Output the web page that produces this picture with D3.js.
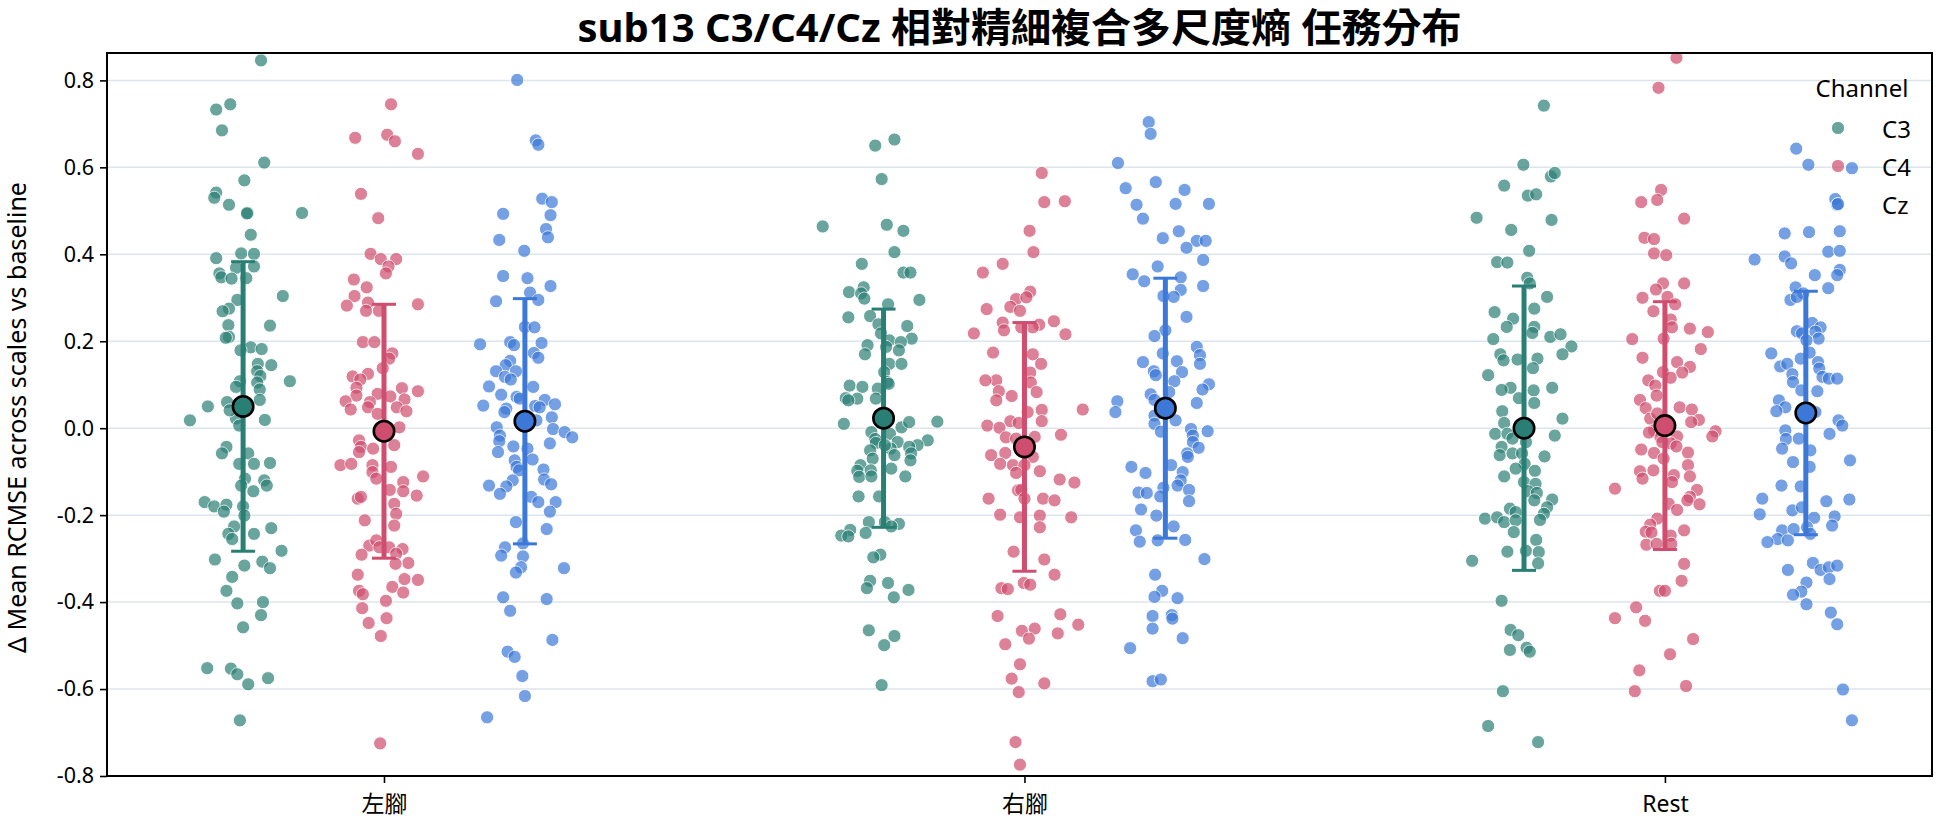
<!DOCTYPE html>
<html><head><meta charset="utf-8">
<script src="https://cdn.jsdelivr.net/npm/d3@7"></script>
<style>
body{margin:0;background:#fff}
svg{display:block}
text{font-family:"Noto Sans","Noto Sans CJK TC",sans-serif;fill:#000}
</style>
</head><body>
<svg id="chart" width="1944" height="827"></svg>
<script>
const categories = ["左腳","右腳","Rest"];
const channels = ["C3","C4","Cz"];
const yTicks = [-0.8,-0.6,-0.4,-0.2,0.0,0.2,0.4,0.6,0.8];
const titleText = "sub13 C3/C4/Cz 相對精細複合多尺度熵 任務分布";
const yLabel = "Δ Mean RCMSE across scales vs baseline";
const legendTitle = "Channel";

// means and standard deviations (per category)
const meanC3 = [0.050, 0.023, 0.000], sdC3 = [0.333, 0.251, 0.327];
const meanC4 = [-0.007, -0.043, 0.006], sdC4 = [0.292, 0.286, 0.285];
const meanCz = [0.016, 0.046, 0.035], sdCz = [0.282, 0.299, 0.280];

// ---- C3 ----
const c3Left = [0.846,0.733,0.745,0.685,0.611,0.570,0.542,0.530,0.514,0.495,0.494,0.495,0.445,0.402,0.401,0.391,0.372,0.369,0.356,0.347,0.344,0.345,0.304,0.295,0.275,0.269,0.236,0.237,0.210,0.208,0.186,0.182,0.179,0.145,0.148,0.131,0.120,0.108,0.108,0.105,0.095,0.089,0.050,0.060,0.065,0.018,0.019,0.022,0.006,0.041,
-0.043,-0.058,-0.058,-0.082,-0.082,-0.080,-0.116,-0.132,-0.120,-0.132,-0.145,-0.170,-0.180,-0.176,-0.192,-0.180,-0.201,-0.226,-0.243,-0.243,-0.255,-0.230,-0.282,-0.302,-0.316,-0.307,-0.322,-0.342,-0.374,-0.403,-0.400,-0.430,-0.458,-0.552,-0.553,-0.566,-0.589,-0.575,-0.672];
const c3LeftJit = [0.028,-0.042,-0.020,-0.033,0.033,0.002,-0.042,-0.045,-0.022,0.007,0.006,0.092,0.012,-0.003,0.017,-0.042,0.017,-0.011,-0.037,-0.034,-0.018,0.005,0.062,-0.009,-0.022,-0.032,0.042,-0.023,-0.022,-0.027,0.012,0.029,-0.004,0.044,0.023,0.022,0.027,0.073,-0.005,0.022,-0.011,0.026,-0.055,-0.025,0.026,-0.083,0.034,-0.011,-0.006,-0.021,
-0.026,-0.033,0.008,-0.006,0.017,0.042,0.003,-0.003,0.033,0.037,0.016,-0.060,-0.045,-0.026,-0.030,0.000,0.002,-0.014,0.017,-0.023,-0.017,0.044,0.060,-0.044,0.002,0.030,0.042,-0.017,-0.026,-0.009,0.031,0.028,0.000,-0.056,-0.019,-0.009,0.008,0.039,-0.005];

const c3Right = [0.664,0.650,0.573,0.464,0.468,0.454,0.405,0.378,0.358,0.358,0.324,0.313,0.310,0.298,0.295,0.285,0.255,0.258,0.239,0.235,0.218,0.206,0.202,0.198,0.191,0.187,0.179,0.170,0.148,0.148,0.129,0.106,0.098,0.095,0.091,0.102,0.069,0.068,0.064,0.068,0.010,0.002,0.014,0.015,-0.009,-0.013,-0.028,-0.025,
-0.034,-0.032,-0.039,-0.043,-0.051,-0.047,-0.039,-0.058,-0.070,-0.062,-0.074,-0.085,-0.098,-0.097,-0.093,-0.112,-0.111,-0.111,-0.157,-0.157,-0.216,-0.216,-0.220,-0.226,-0.234,-0.247,-0.249,-0.241,-0.291,-0.297,-0.351,-0.368,-0.356,-0.372,-0.389,-0.465,-0.478,-0.499,-0.591];
const c3RightJit = [0.017,-0.013,-0.003,-0.095,0.005,0.031,0.017,-0.034,0.031,0.042,-0.031,-0.054,-0.035,-0.030,0.056,0.007,-0.055,-0.021,-0.008,0.037,-0.004,0.044,0.009,0.027,-0.025,0.004,0.024,-0.029,0.009,0.028,0.001,0.006,-0.053,-0.033,-0.009,0.008,-0.059,-0.041,-0.055,-0.012,-0.062,0.028,0.040,0.084,-0.019,0.010,0.069,-0.013,
-0.012,0.022,0.053,0.040,-0.021,0.011,0.002,0.043,-0.017,0.017,0.042,-0.036,-0.041,-0.020,0.012,-0.038,-0.019,0.034,-0.039,-0.007,-0.023,0.002,0.024,0.012,-0.052,-0.066,-0.055,-0.028,-0.005,-0.016,-0.021,-0.026,0.007,0.039,0.016,-0.023,0.017,0.001,-0.003];

const c3Rest = [0.742,0.606,0.579,0.587,0.558,0.535,0.538,0.484,0.479,0.456,0.408,0.382,0.381,0.346,0.333,0.302,0.267,0.275,0.252,0.233,0.233,0.219,0.205,0.210,0.216,0.188,0.170,0.156,0.158,0.160,0.170,0.122,0.138,0.093,0.088,0.087,0.093,0.069,0.058,0.039,0.012,0.022,-0.013,-0.013,-0.017,
-0.024,-0.032,-0.043,-0.062,-0.058,-0.058,-0.065,-0.082,-0.093,-0.098,-0.111,-0.124,-0.128,-0.145,-0.149,-0.166,-0.164,-0.182,-0.185,-0.193,-0.197,-0.208,-0.205,-0.216,-0.212,-0.211,-0.239,-0.257,-0.284,-0.282,-0.285,-0.305,-0.311,-0.397,-0.464,-0.476,-0.510,-0.505,-0.514,-0.605,-0.685,-0.722];
const c3RestJit = [0.031,-0.001,0.042,0.048,-0.031,0.006,0.019,-0.074,0.043,-0.020,0.008,-0.042,-0.026,0.005,0.009,0.036,-0.046,0.016,-0.017,-0.027,0.016,0.013,-0.048,0.041,0.057,0.074,-0.037,-0.032,-0.010,0.021,0.060,-0.056,0.014,-0.021,-0.035,0.015,0.044,-0.008,0.016,-0.034,-0.031,0.060,-0.045,-0.026,0.048,
-0.018,0.003,-0.035,-0.038,-0.018,-0.003,0.032,0.001,-0.013,0.017,-0.031,0.000,0.018,0.006,0.020,0.016,0.044,0.036,-0.022,-0.013,0.031,-0.061,-0.042,-0.031,-0.013,0.025,-0.016,0.019,-0.026,0.003,0.023,-0.081,0.022,-0.035,-0.021,-0.009,-0.022,0.004,0.009,-0.033,-0.056,0.022];

// ---- C4 ----
const c4Left = [0.745,0.668,0.675,0.660,0.631,0.539,0.483,0.401,0.389,0.389,0.372,0.356,0.342,0.324,0.304,0.282,0.289,0.270,0.270,0.285,0.198,0.198,0.172,0.160,0.138,0.125,0.119,0.112,0.093,0.092,0.085,0.079,0.073,0.075,0.062,0.060,0.066,0.043,0.048,0.048,0.039,0.033,-0.028,0.002,
-0.043,-0.055,-0.047,-0.039,-0.085,-0.082,-0.085,-0.089,-0.101,-0.116,-0.111,-0.124,-0.142,-0.145,-0.155,-0.162,-0.158,-0.174,-0.197,-0.212,-0.224,-0.270,-0.258,-0.274,-0.274,-0.278,-0.289,-0.291,-0.310,-0.312,-0.337,-0.347,-0.349,-0.365,-0.378,-0.374,-0.382,-0.397,-0.414,-0.437,-0.448,-0.478,-0.725];
const c4LeftJit = [0.011,-0.045,0.005,0.017,0.053,-0.036,-0.009,-0.021,-0.005,0.019,0.007,0.003,-0.047,-0.027,-0.046,-0.058,-0.025,-0.028,-0.008,0.053,-0.033,-0.015,0.013,0.008,-0.002,-0.025,-0.049,-0.037,-0.043,0.028,0.053,-0.010,0.010,-0.043,-0.060,-0.022,0.032,-0.052,-0.025,0.020,0.035,-0.010,-0.039,0.024,
-0.036,-0.039,-0.017,0.016,-0.068,-0.051,-0.018,0.011,-0.018,-0.012,0.061,0.030,0.009,0.030,0.051,-0.041,-0.036,0.016,0.019,-0.030,0.016,-0.023,-0.012,-0.007,0.008,0.029,0.019,-0.035,0.038,0.018,-0.041,0.032,0.053,0.013,0.030,-0.039,-0.033,0.003,-0.034,0.004,-0.024,-0.005,-0.006];

const c4Right = [0.587,0.520,0.522,0.454,0.405,0.378,0.358,0.314,0.297,0.301,0.279,0.270,0.274,0.246,0.243,0.238,0.232,0.225,0.232,0.218,0.216,0.174,0.170,0.148,0.128,0.110,0.110,0.105,0.085,0.083,0.064,0.074,0.042,0.043,0.037,0.016,0.012,0.016,0.006,0.001,-0.015,-0.021,
-0.024,-0.020,-0.062,-0.057,-0.066,-0.082,-0.085,-0.085,-0.103,-0.099,-0.118,-0.125,-0.143,-0.142,-0.162,-0.162,-0.162,-0.166,-0.199,-0.205,-0.201,-0.205,-0.228,-0.284,-0.302,-0.337,-0.368,-0.370,-0.356,-0.360,-0.432,-0.428,-0.452,-0.466,-0.461,-0.484,-0.472,-0.497,-0.543,-0.576,-0.587,-0.607,-0.722,-0.774];
const c4RightJit = [0.027,0.031,0.063,0.008,0.014,-0.034,-0.065,0.009,-0.013,0.003,-0.022,-0.007,-0.059,0.046,-0.034,0.023,0.013,-0.032,-0.005,-0.079,0.064,-0.049,0.013,0.026,0.009,-0.044,-0.061,0.010,-0.040,0.019,-0.044,-0.020,0.027,0.091,0.005,-0.022,-0.009,0.027,-0.058,-0.039,0.057,-0.029,
-0.013,0.016,-0.052,-0.030,0.013,-0.038,-0.018,0.000,-0.013,0.024,0.055,0.078,-0.010,-0.005,-0.056,0.000,0.029,0.047,-0.038,-0.007,0.024,0.073,0.024,-0.017,0.031,0.047,-0.036,-0.026,-0.001,0.009,-0.042,0.056,0.084,-0.004,0.016,0.007,0.052,-0.030,-0.007,-0.020,0.031,-0.009,-0.014,-0.007];

const c4Rest = [0.852,0.783,0.548,0.520,0.525,0.482,0.438,0.435,0.402,0.398,0.333,0.333,0.319,0.300,0.302,0.285,0.269,0.250,0.232,0.229,0.221,0.206,0.205,0.182,0.162,0.152,0.141,0.129,0.128,0.116,0.110,0.098,0.075,0.065,0.046,0.048,0.043,0.022,0.019,0.014,-0.019,-0.007,-0.019,-0.005,-0.020,
0.034,-0.010,-0.032,-0.035,-0.042,-0.049,-0.057,-0.056,-0.070,-0.085,-0.097,-0.099,-0.116,-0.108,-0.111,-0.124,-0.139,-0.142,-0.158,-0.166,-0.175,-0.174,-0.188,-0.208,-0.222,-0.238,-0.240,-0.235,-0.247,-0.268,-0.266,-0.266,-0.312,-0.351,-0.374,-0.374,-0.412,-0.437,-0.443,-0.485,-0.520,-0.557,-0.593,-0.605];
const c4RestJit = [0.018,-0.010,-0.006,-0.037,-0.012,0.030,-0.032,-0.017,-0.017,0.002,0.030,-0.003,-0.014,-0.035,0.004,0.016,-0.018,0.009,0.011,0.039,0.067,-0.002,-0.051,0.056,-0.035,0.019,0.039,-0.003,0.027,0.009,-0.026,-0.015,-0.013,-0.039,-0.030,0.023,0.042,-0.023,0.053,0.041,0.019,0.079,0.074,-0.017,-0.007,
-0.012,-0.025,-0.004,0.009,0.018,-0.037,-0.017,0.036,-0.002,0.036,-0.018,-0.039,-0.035,0.014,0.039,0.011,-0.078,0.050,0.039,0.035,0.054,0.006,0.019,-0.012,-0.023,-0.030,-0.021,0.030,0.009,-0.029,-0.013,0.010,0.030,0.026,-0.008,0.000,-0.045,-0.078,-0.031,0.044,0.008,-0.040,0.033,-0.047];

// ---- Cz ----
const czLeft = [0.801,0.662,0.652,0.528,0.520,0.493,0.490,0.458,0.439,0.433,0.408,0.350,0.345,0.327,0.312,0.292,0.295,0.233,0.232,0.193,0.198,0.191,0.196,0.173,0.162,0.155,0.145,0.131,0.131,0.118,0.112,0.096,0.095,0.077,0.072,0.068,0.065,0.055,0.052,0.051,0.048,0.045,0.037,0.025,0.018,0.002,-0.002,-0.009,-0.021,-0.017,
-0.030,-0.055,-0.042,-0.047,-0.035,-0.074,-0.072,-0.089,-0.097,-0.095,-0.120,-0.118,-0.129,-0.132,-0.134,-0.151,-0.158,-0.170,-0.170,-0.192,-0.216,-0.232,-0.265,-0.274,-0.293,-0.295,-0.320,-0.332,-0.322,-0.389,-0.393,-0.420,-0.487,-0.514,-0.526,-0.570,-0.616,-0.665];
const czLeftJit = [-0.012,0.017,0.021,0.027,0.042,-0.034,0.040,0.033,0.036,-0.040,-0.001,-0.034,0.004,0.040,0.008,-0.045,0.021,0.000,0.015,-0.070,-0.023,-0.017,0.026,0.014,0.021,-0.023,-0.030,-0.045,-0.014,-0.031,-0.022,-0.056,0.013,-0.037,-0.013,-0.008,0.031,0.047,-0.065,0.016,0.023,-0.029,-0.032,0.042,0.018,-0.044,0.044,0.062,0.074,-0.039,
-0.040,-0.042,-0.018,0.004,0.039,-0.016,0.012,-0.013,-0.009,0.029,-0.019,0.030,0.041,-0.056,-0.029,-0.039,0.010,0.021,0.048,0.039,-0.014,0.034,-0.003,-0.031,-0.037,-0.003,-0.006,-0.014,0.061,-0.034,0.034,-0.023,0.043,-0.027,-0.016,-0.004,0.000,-0.059];

const czRight = [0.704,0.677,0.610,0.552,0.566,0.548,0.514,0.516,0.516,0.482,0.437,0.453,0.431,0.431,0.415,0.387,0.372,0.354,0.338,0.347,0.327,0.318,0.304,0.302,0.256,0.225,0.212,0.187,0.172,0.168,0.148,0.152,0.154,0.131,0.122,0.129,0.108,0.083,0.101,0.089,0.078,0.065,0.062,0.037,0.058,0.029,0.010,0.018,-0.002,-0.007,-0.017,
-0.008,-0.032,-0.045,-0.058,-0.066,-0.089,-0.085,-0.103,-0.101,-0.120,-0.132,-0.142,-0.137,-0.148,-0.149,-0.157,-0.168,-0.187,-0.201,-0.226,-0.235,-0.261,-0.258,-0.257,-0.301,-0.337,-0.374,-0.388,-0.391,-0.432,-0.430,-0.438,-0.461,-0.483,-0.506,-0.582,-0.578];
const czRightJit = [-0.026,-0.023,-0.074,-0.062,-0.015,0.030,-0.045,0.016,0.068,-0.035,-0.004,0.021,0.049,0.063,0.033,0.059,-0.012,-0.051,-0.033,0.024,0.059,0.024,-0.003,0.013,0.033,0.000,-0.017,0.049,-0.004,0.054,0.054,-0.035,0.018,-0.018,-0.015,0.026,0.014,0.006,0.068,0.058,-0.023,-0.017,-0.075,-0.078,0.049,-0.017,-0.017,0.016,0.040,0.066,0.043,
-0.007,0.043,0.052,0.034,0.035,-0.053,0.009,-0.031,0.027,0.024,0.019,0.037,-0.003,-0.042,-0.029,-0.008,0.037,-0.038,-0.014,0.013,-0.046,-0.040,-0.012,0.031,0.061,-0.016,-0.005,-0.017,0.019,-0.020,0.010,0.011,-0.020,0.027,-0.055,-0.020,-0.007];

const czRest = [0.643,0.606,0.598,0.527,0.514,0.448,0.451,0.453,0.406,0.408,0.395,0.388,0.379,0.364,0.352,0.352,0.324,0.322,0.310,0.295,0.302,0.242,0.232,0.223,0.218,0.222,0.206,0.202,0.172,0.174,0.160,0.152,0.142,0.148,0.137,0.124,0.118,0.114,0.114,0.106,0.087,0.085,0.064,0.048,0.039,0.037,0.018,0.006,-0.005,-0.013,-0.025,
-0.024,-0.047,-0.051,-0.074,-0.078,-0.089,-0.132,-0.134,-0.162,-0.168,-0.164,-0.189,-0.182,-0.198,-0.206,-0.203,-0.224,-0.235,-0.232,-0.228,-0.243,-0.255,-0.258,-0.262,-0.326,-0.310,-0.326,-0.320,-0.316,-0.347,-0.355,-0.376,-0.383,-0.405,-0.424,-0.451,-0.601,-0.672];
const czRestJit = [-0.015,0.004,0.072,0.046,0.049,-0.033,0.005,0.053,0.035,0.053,-0.033,-0.080,-0.023,0.053,0.049,0.014,-0.016,0.035,-0.004,-0.024,-0.014,0.010,0.023,-0.014,-0.006,0.015,0.020,0.001,-0.054,0.006,-0.008,0.019,-0.040,-0.029,0.021,-0.021,0.026,0.036,0.049,-0.020,-0.007,0.018,-0.042,-0.032,-0.046,0.015,0.051,0.057,-0.032,0.037,-0.031,
-0.011,-0.037,0.007,0.069,-0.020,0.006,-0.038,-0.008,-0.068,0.032,0.068,-0.021,-0.006,-0.072,0.013,0.045,0.041,-0.037,-0.019,0.002,0.007,-0.044,-0.028,-0.060,-0.028,0.011,0.023,0.036,0.049,0.037,0.001,-0.007,-0.020,0.001,0.039,0.049,0.058,0.072];

const seriesVals = [[c3Left,c3Right,c3Rest],[c4Left,c4Right,c4Rest],[czLeft,czRight,czRest]];
const seriesJit  = [[c3LeftJit,c3RightJit,c3RestJit],[c4LeftJit,c4RightJit,c4RestJit],[czLeftJit,czRightJit,czRestJit]];
const seriesMean = [meanC3, meanC4, meanCz];
const seriesSd   = [sdC3, sdC4, sdCz];
const colors = ["#2a7f75","#cf4d6f","#3c78d8"];

const svg = d3.select("#chart");
const L = 107, R = 1932, T = 53, B = 776;
const x = d3.scaleLinear().domain([-0.4325, 2.417]).range([L, R]);
const y = d3.scaleLinear().domain([-0.8, 0.863]).range([B, T]);
const dodge = d3.scalePoint().domain(channels).range([-0.22, 0.22]);
const color = d3.scaleOrdinal().domain(channels).range(colors);
const fmt = d => d.toFixed(1);

// grid
svg.append("g").selectAll("line").data(yTicks).join("line")
  .attr("x1", L).attr("x2", R).attr("y1", d => y(d)).attr("y2", d => y(d))
  .attr("stroke", "#dce5ed").attr("stroke-width", 1.5);

// points
const pts = svg.append("g");
channels.forEach((ch, ci) => {
  categories.forEach((cat, gi) => {
    const vals = seriesVals[ci][gi], jit = seriesJit[ci][gi];
    const data = vals.map((v, i) => ({v, j: jit[i]}));
    pts.append("g").selectAll("circle").data(data).join("circle")
      .attr("cx", d => x(gi + dodge(ch) + d.j))
      .attr("cy", d => y(d.v))
      .attr("r", 6.6)
      .attr("fill", color(ch))
      .attr("stroke", "#fff").attr("stroke-width", 1)
      .attr("opacity", 0.7);
  });
});

// error bars + means
const eb = svg.append("g");
channels.forEach((ch, ci) => {
  categories.forEach((cat, gi) => {
    const m = seriesMean[ci][gi], s = seriesSd[ci][gi];
    const cx = x(gi + dodge(ch));
    eb.append("line").attr("x1", cx).attr("x2", cx).attr("y1", y(m - s)).attr("y2", y(m + s))
      .attr("stroke", color(ch)).attr("stroke-width", 5);
    [m - s, m + s].forEach(v => {
      eb.append("line").attr("x1", cx - 12).attr("x2", cx + 12).attr("y1", y(v)).attr("y2", y(v))
        .attr("stroke", color(ch)).attr("stroke-width", 3);
    });
  });
});
channels.forEach((ch, ci) => {
  categories.forEach((cat, gi) => {
    eb.append("circle").attr("cx", x(gi + dodge(ch))).attr("cy", y(seriesMean[ci][gi]))
      .attr("r", 10.2).attr("fill", color(ch)).attr("stroke", "#000").attr("stroke-width", 2.6);
  });
});

// axes
const yAxis = d3.axisLeft(y).tickValues(yTicks).tickFormat(fmt).tickSize(7).tickPadding(6);
const gy = svg.append("g").attr("transform", `translate(${L},0)`).call(yAxis);
gy.select(".domain").remove();
gy.selectAll("text").attr("font-size", 21.5).attr("font-family", "'DejaVu Sans',sans-serif");
gy.selectAll("line").attr("stroke-width", 1.6);

const xAxis = d3.axisBottom(x).tickValues([0,1,2]).tickFormat(i => categories[i]).tickSize(7).tickPadding(13);
const gx = svg.append("g").attr("transform", `translate(0,${B})`).call(xAxis);
gx.select(".domain").remove();
gx.selectAll("text").attr("font-size", 23).attr("font-family", "'Noto Sans','Noto Sans CJK TC',sans-serif");
gx.selectAll("line").attr("stroke-width", 1.6);

// frame
svg.append("rect").attr("x", L).attr("y", T).attr("width", R - L).attr("height", B - T)
  .attr("fill", "none").attr("stroke", "#000").attr("stroke-width", 2);

// title
svg.append("text").attr("x", (L + R) / 2).attr("y", 42).attr("text-anchor", "middle")
  .attr("font-size", 40).attr("font-weight", "bold").text(titleText);

// y label
svg.append("text").attr("transform", `translate(26,${(T + B) / 2 + 3}) rotate(-90)`)
  .attr("text-anchor", "middle").attr("font-size", 25).text(yLabel);

// legend
const lg = svg.append("g");
lg.append("text").attr("x", 1862).attr("y", 97).attr("text-anchor", "middle").attr("font-size", 24).text(legendTitle);
channels.forEach((ch, i) => {
  const ly = 128 + i * 38;
  lg.append("circle").attr("cx", 1838).attr("cy", ly).attr("r", 6.6).attr("fill", color(ch))
    .attr("stroke", "#fff").attr("stroke-width", 1).attr("opacity", 0.7);
  lg.append("text").attr("x", 1882).attr("y", ly).attr("dominant-baseline", "central")
    .attr("font-size", 24).text(ch);
});
</script>
</body></html>
